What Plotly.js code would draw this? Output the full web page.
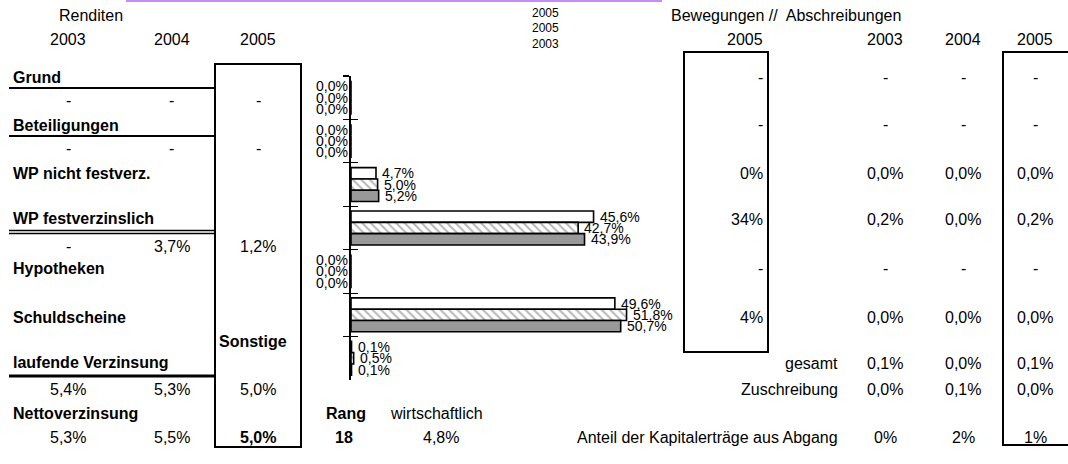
<!DOCTYPE html>
<html>
<head>
<meta charset="utf-8">
<script src="https://cdn.plot.ly/plotly-3.0.1.min.js"></script>
<style>html,body{margin:0;padding:0;background:#fff;}#chart{width:1068px;height:464px;}</style>
</head>
<body>
<div id="chart"></div>
<script>
// ---------- DATA ----------
const categories = ["Grund","Beteiligungen","WP nicht festverz.","WP festverzinslich","Hypotheken","Schuldscheine","Sonstige"];
const share2003 = [0, 0, 4.7, 45.6, 0, 49.6, 0.1];
const share2004 = [0, 0, 5.0, 42.7, 0, 51.8, 0.5];
const share2005 = [0, 0, 5.2, 43.9, 0, 50.7, 0.1];
const legendYears = ["2005", "2005", "2003"];

const yearLabels = ["2003", "2004", "2005"];
const renditeGrund = ["-", "-", "-"];
const renditeBeteiligungen = ["-", "-", "-"];
const renditeWpFest = ["-", "3,7%", "1,2%"];
const laufendeVerzinsung = ["5,4%", "5,3%", "5,0%"];
const nettoverzinsung = ["5,3%", "5,5%", "5,0%"];
const rang = "18";
const wirtschaftlich = "4,8%";

const bewegungen2005 = ["-", "-", "0%", "34%", "-", "4%"];
const abschreibung2003 = ["-", "-", "0,0%", "0,2%", "-", "0,0%"];
const abschreibung2004 = ["-", "-", "0,0%", "0,0%", "-", "0,0%"];
const abschreibung2005 = ["-", "-", "0,0%", "0,2%", "-", "0,0%"];
const gesamt = ["0,1%", "0,0%", "0,1%"];
const zuschreibung = ["0,0%", "0,1%", "0,0%"];
const anteilAbgang = ["0%", "2%", "1%"];

// ---------- LAYOUT HELPERS ----------
const W = 1068, H = 464;
const L = 351, R = 684, T = 76, B = 380;
const px = x => (x - L) / (R - L);
const py = y => (B - y) / (B - T);
const FONT = "Liberation Sans, Arial, sans-serif";

const fmt = v => v.toFixed(1).replace('.', ',') + '%';

const series = [
  {name: "2003", vals: share2003, marker: {color: "#ffffff", line: {color: "#000", width: 1.6}}},
  {name: "2004", vals: share2004, marker: {color: "#ffffff", line: {color: "#000", width: 1.6},
      pattern: {shape: "\\", fgcolor: "#b8b8b8", bgcolor: "#ffffff", size: 6, solidity: 0.35}}},
  {name: "2005", vals: share2005, marker: {color: "#999999", line: {color: "#000", width: 1.6}}}
];

const traces = series.map(s => ({
  type: "bar", orientation: "h", name: s.name,
  x: s.vals, y: categories, marker: s.marker,
  hoverinfo: "none", showlegend: false, cliponaxis: false
}));
// invisible helper so the second (crossing-tick) axis is drawn
traces.push({type: "scatter", mode: "none", x: [0, 0], y: [-0.5, 6.5], yaxis: "y2",
  showlegend: false, hoverinfo: "none"});

const annotations = [];
const slot = (B - T) / categories.length * (1 - 0.22) / 3;
const shifts = [slot, 0, -slot];
series.forEach((s, si) => {
  s.vals.forEach((v, ci) => {
    annotations.push({
      x: v, y: categories[ci], xref: "x", yref: "y",
      text: fmt(v), showarrow: false,
      xanchor: v === 0 ? "right" : "left",
      xshift: v === 0 ? -1 : 4,
      yshift: shifts[si], yanchor: "middle",
      font: {family: FONT, size: 14, color: "#000"}
    });
  });
});

function txt(text, x, y, anchor, opts) {
  opts = opts || {};
  annotations.push({
    text: opts.bold ? "<b>" + text + "</b>" : text,
    x: px(x), y: py(y), xref: "paper", yref: "paper",
    xanchor: anchor, yanchor: "middle", showarrow: false,
    borderpad: 0,
    font: {family: FONT, size: opts.size || 16, color: "#000"}
  });
}

// Left table
txt("Renditen", 91, 16, "center");
const leftCols = [68, 171.5, 258];
yearLabels.forEach((t, i) => txt(t, leftCols[i], 40, "center"));
const leftRowLabels = [["Grund", 77], ["Beteiligungen", 125], ["WP nicht festverz.", 173],
  ["WP festverzinslich", 218], ["Hypotheken", 268], ["Schuldscheine", 317],
  ["laufende Verzinsung", 362], ["Nettoverzinsung", 413]];
leftRowLabels.forEach(r => txt(r[0], 12, r[1], "left", {bold: true}));
txt("Sonstige", 218, 341, "left", {bold: true});
renditeGrund.forEach((t, i) => txt(t, leftCols[i], 100, "center"));
renditeBeteiligungen.forEach((t, i) => txt(t, leftCols[i], 148, "center"));
renditeWpFest.forEach((t, i) => txt(t, leftCols[i], 246, "center"));
laufendeVerzinsung.forEach((t, i) => txt(t, leftCols[i], 389, "center"));
nettoverzinsung.forEach((t, i) => txt(t, leftCols[i], 437, "center", {bold: i === 2}));

// Middle
legendYears.forEach((t, i) => txt(t, 545.5, 12.5 + i * 15.5, "center", {size: 12}));
txt("Rang", 325, 413, "left", {bold: true});
txt("wirtschaftlich", 389, 413, "left");
txt(rang, 344, 437, "center", {bold: true});
txt(wirtschaftlich, 441, 437, "center");

// Right table
txt("Bewegungen //  Abschreibungen", 670, 15, "left");
txt("2005", 764, 40, "right");
const rightCols = [885, 963, 1035];
yearLabels.forEach((t, i) => txt(t, rightCols[i], 40, "center"));
const rightRows = [77, 124, 173, 219, 268, 317];
bewegungen2005.forEach((t, i) => txt(t, 764, rightRows[i], "right"));
[abschreibung2003, abschreibung2004, abschreibung2005].forEach((col, ci) =>
  col.forEach((t, i) => txt(t, rightCols[ci], rightRows[i], "center")));
txt("gesamt", 839, 363, "right");
txt("Zuschreibung", 839, 389, "right");
txt("Anteil der Kapitalerträge aus Abgang", 839, 437, "right");
gesamt.forEach((t, i) => txt(t, rightCols[i], 363, "center"));
zuschreibung.forEach((t, i) => txt(t, rightCols[i], 389, "center"));
anteilAbgang.forEach((t, i) => txt(t, rightCols[i], 437, "center"));

// Table lines
function hline(x0, x1, y, w, color) {
  return {type: "line", xref: "paper", yref: "paper", x0: px(x0), x1: px(x1), y0: py(y), y1: py(y),
    line: {color: color || "#000", width: w}};
}
function rect(x0, x1, y0, y1, w) {
  return {type: "rect", xref: "paper", yref: "paper", x0: px(x0), x1: px(x1), y0: py(y0), y1: py(y1),
    line: {color: "#000", width: w}, fillcolor: "rgba(0,0,0,0)"};
}
const shapes = [
  hline(126, 662, 1, 2, "#c58cf5"),
  rect(215, 301, 64, 447, 2),
  hline(9, 215, 88, 2),
  hline(9, 215, 136, 2),
  hline(9, 215, 230.5, 1.4),
  hline(9, 215, 233.5, 1.4),
  hline(9, 215, 376, 3),
  rect(684, 768, 52, 352, 2),
  rect(1003, 1075, 52, 445, 2)
];

const layout = {
  width: W, height: H,
  margin: {l: L, r: W - R, t: T, b: H - B, pad: 0},
  paper_bgcolor: "#fff", plot_bgcolor: "rgba(0,0,0,0)",
  barmode: "group", bargap: 0.22, bargroupgap: 0,
  xaxis: {range: [0, 62.6], visible: false, fixedrange: true},
  yaxis: {type: "category", range: [6.5, -0.5], showticklabels: false, showgrid: false, zeroline: false,
    showline: true, linecolor: "#000", linewidth: 1.6,
    ticks: "outside", ticklen: 6, tickwidth: 1.2, tickcolor: "#000", tickson: "boundaries", fixedrange: true},
  yaxis2: {overlaying: "y", side: "left", anchor: "x", range: [6.5, -0.5], tickmode: "array",
    tickvals: [-0.5, 0.5, 1.5, 2.5, 3.5, 4.5, 5.5, 6.5], showticklabels: false, showgrid: false, zeroline: false,
    showline: false, ticks: "inside", ticklen: 7, tickwidth: 1.2, tickcolor: "#000", fixedrange: true},
  annotations: annotations,
  shapes: shapes,
  font: {family: FONT}
};

Plotly.newPlot("chart", traces, layout, {staticPlot: true, displayModeBar: false});
</script>
</body>
</html>
